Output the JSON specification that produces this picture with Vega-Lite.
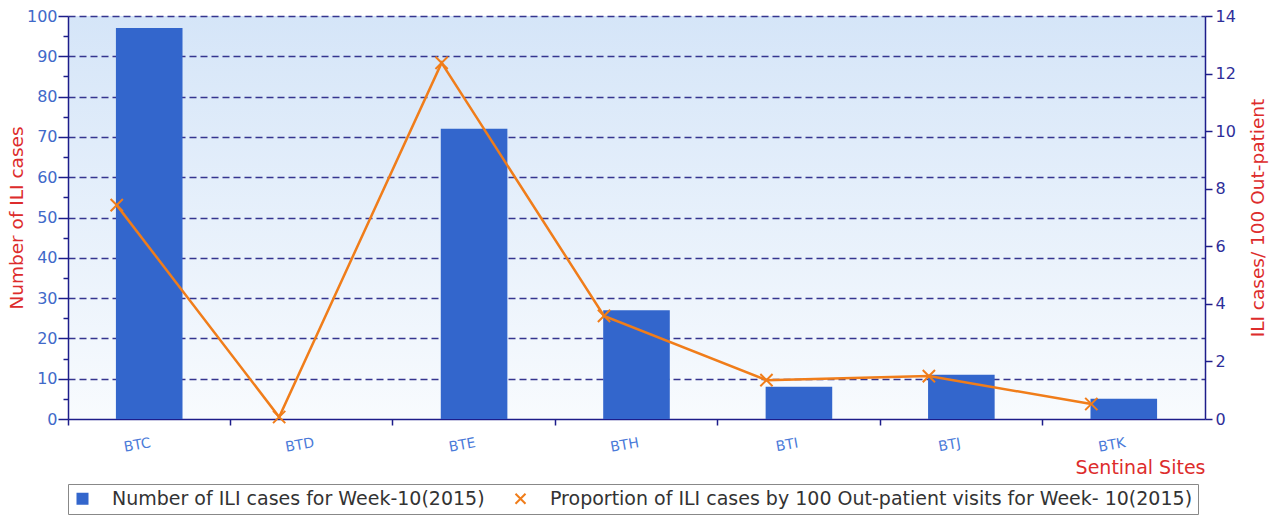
{
  "$schema": "https://vega.github.io/schema/vega-lite/v6.json",
  "width": 1137,
  "height": 403,
  "autosize": "none",
  "padding": {"left": 68, "top": 16, "right": 69, "bottom": 97},
  "background": "white",
  "config": {
    "font": "DejaVu Sans",
    "view": {
      "stroke": null,
      "fill": {"gradient": "linear", "x1": 0, "y1": 0, "x2": 0, "y2": 1,
        "stops": [{"offset": 0, "color": "#d5e5f8"}, {"offset": 1, "color": "#f8fbfe"}]}
    }
  },
  "data": {
    "values": [
      {"site": "BTC", "cases": 97, "prop": 7.43},
      {"site": "BTD", "cases": 0, "prop": 0.07},
      {"site": "BTE", "cases": 72, "prop": 12.37},
      {"site": "BTH", "cases": 27, "prop": 3.58},
      {"site": "BTI", "cases": 8, "prop": 1.35},
      {"site": "BTJ", "cases": 11, "prop": 1.49},
      {"site": "BTK", "cases": 5, "prop": 0.52}
    ]
  },
  "encoding": {
    "x": {
      "field": "site", "type": "nominal", "sort": null,
      "scale": {"paddingInner": 0, "paddingOuter": 0},
      "axis": {
        "title": "Sentinal Sites", "titleColor": "#dd2c2c", "titleFontSize": 19, "titleFontWeight": "normal",
        "titleAnchor": "end", "titlePadding": 4,
        "bandPosition": 0, "labelOffset": -13, "labelAngle": -10, "labelAlign": "center",
        "labelColor": "#4a7ad9", "labelFontSize": 14, "labelPadding": 13,
        "domainColor": "#1d1d8a", "domainWidth": 1.5, "tickColor": "#1d1d8a", "tickSize": 6, "tickWidth": 1.5
      }
    }
  },
  "layer": [
    {
      "mark": {"type": "bar", "width": {"band": 0.41}},
      "encoding": {
        "y": {
          "field": "cases", "type": "quantitative",
          "scale": {"domain": [0, 100], "nice": false},
          "axis": {
            "title": "Number of ILI cases", "titleColor": "#dd2c2c", "titleFontSize": 18.5, "titleFontWeight": "normal", "titlePadding": 0,
            "values": [0,5,10,15,20,25,30,35,40,45,50,55,60,65,70,75,80,85,90,95,100],
            "labelExpr": "datum.value % 10 === 0 ? datum.label : ''",
            "labelColor": "#4069c9", "labelFontSize": 16, "labelPadding": 1,
            "domainColor": "#1d1d8a", "domainWidth": 1.5, "tickColor": "#1d1d8a", "tickWidth": 1.5,
            "tickSize": {"expr": "datum.value % 10 === 0 ? 10 : 5"},
            "grid": true, "gridColor": "#35358f", "gridDash": [7, 4], "gridWidth": 1.3,
            "gridOpacity": {"expr": "datum.value % 10 === 0 && datum.value > 0 ? 1 : 0"}
          }
        },
        "color": {
          "datum": "Number of ILI cases for Week-10(2015)", "type": "nominal",
          "scale": {
            "domain": ["Number of ILI cases for Week-10(2015)", "Proportion of ILI cases by 100 Out-patient visits for Week- 10(2015)"],
            "range": ["#3366cc", "#f07d1a"]
          },
          "legend": {
            "title": null, "orient": "none", "legendX": 0, "legendY": 468, "direction": "horizontal",
            "strokeColor": "#888888", "fillColor": "white", "padding": 5,
            "labelFontSize": 19, "labelColor": "#333333", "labelLimit": 1000,
            "symbolSize": 100, "labelOffset": 20, "columnPadding": 26,
            "encode": {
              "symbols": {
                "update": {
                  "shape": {"signal": "datum.value === 'Number of ILI cases for Week-10(2015)' ? 'square' : 'M-1,-1L1,1M-1,1L1,-1'"},
                  "fill": {"signal": "datum.value === 'Number of ILI cases for Week-10(2015)' ? '#3366cc' : 'transparent'"},
                  "stroke": {"signal": "datum.value === 'Number of ILI cases for Week-10(2015)' ? 'transparent' : '#f07d1a'"},
                  "strokeWidth": {"value": 2}
                }
              }
            }
          }
        }
      }
    },
    {
      "encoding": {
        "x": {"field": "site", "type": "nominal", "sort": null, "bandPosition": 0.3}
      },
      "layer": [
        {
          "mark": {"type": "line", "color": "#f07d1a", "strokeWidth": 2.5},
          "encoding": {
            "y": {
              "field": "prop", "type": "quantitative",
              "scale": {"domain": [0, 14], "nice": false},
              "axis": {
                "orient": "right",
                "title": "ILI cases/ 100 Out-patient", "titleColor": "#dd2c2c", "titleFontSize": 18.5, "titleFontWeight": "normal",
                "titleAngle": 270, "titleBaseline": "top", "titlePadding": 13,
                "values": [0,1,2,3,4,5,6,7,8,9,10,11,12,13,14],
                "labelExpr": "datum.value % 2 === 0 ? datum.label : ''",
                "labelColor": "#2e2e99", "labelFontSize": 16, "labelPadding": 3,
                "domainColor": "#1d1d8a", "domainWidth": 1.5, "tickColor": "#1d1d8a", "tickWidth": 1.5,
                "tickSize": {"expr": "datum.value % 2 === 0 ? 7 : 4"},
                "grid": false
              }
            }
          }
        },
        {
          "mark": {"type": "point", "shape": "M-1,-1L1,1M-1,1L1,-1", "filled": false, "size": 150, "strokeWidth": 2, "opacity": 1},
          "encoding": {
            "y": {"field": "prop", "type": "quantitative"},
            "color": {"datum": "Proportion of ILI cases by 100 Out-patient visits for Week- 10(2015)", "type": "nominal"}
          }
        }
      ]
    }
  ],
  "resolve": {"scale": {"y": "independent"}}
}
